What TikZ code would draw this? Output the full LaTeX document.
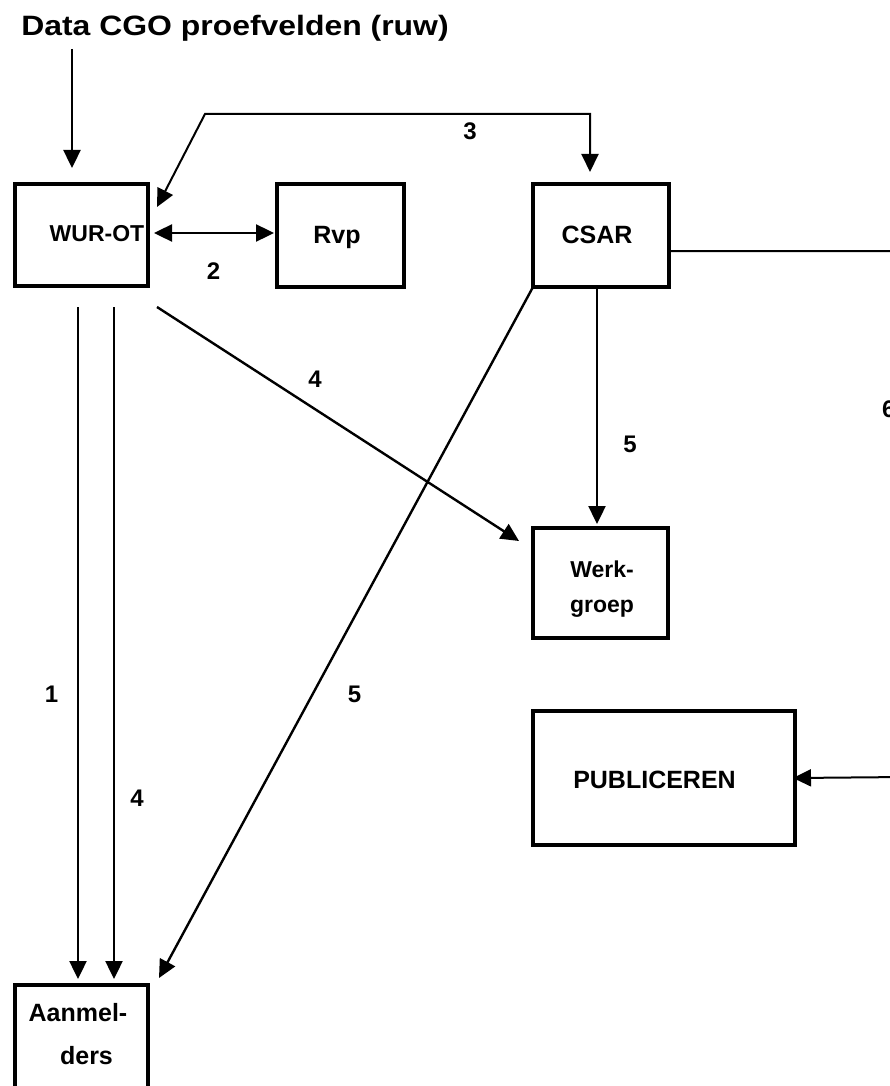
\documentclass[tikz,border=0pt]{standalone}
\usepackage{fontspec}
\setmainfont{Liberation Sans}
\usetikzlibrary{arrows.meta,calc}
\begin{document}
\begin{tikzpicture}[x=1pt,y=-1pt,
  box/.style={draw, line width=4.6pt, inner sep=0pt, outer sep=0pt},
  txt/.style={anchor=base, inner sep=0pt, font=\bfseries\fontsize{24}{28}\selectfont},
  tip/.tip={Triangle[length=18pt,width=17pt]},
  conn/.style={line width=2.4pt, -tip},
  dconn/.style={line width=2.4pt, tip-tip},
  thin/.style={line width=2pt}
]
\useasboundingbox (0,0) rectangle (890,1086);

% title
\node[txt, font=\bfseries\fontsize{28}{32}\selectfont] (title) at (235,36) {\scalebox{1.14}[1]{Data CGO proefvelden (ruw)}};

% boxes
\node[box, minimum width=133pt, minimum height=102pt] (wur) at (81.5,235) {};
\node[box, minimum width=127pt, minimum height=103pt] (rvp) at (340.5,235.5) {};
\node[box, minimum width=136pt, minimum height=103pt] (csar) at (601,235.5) {};
\node[box, minimum width=135pt, minimum height=110pt] (werk) at (600.5,583) {};
\node[box, minimum width=262pt, minimum height=134pt] (pub) at (664,778) {};
\node[box, minimum width=133pt, minimum height=130pt] (aan) at (81.5,1050) {};

% box texts
\node[txt, font=\bfseries\fontsize{23}{27}\selectfont] (wurt) at (97,241) {WUR-OT};
\node[txt, font=\bfseries\fontsize{25}{29}\selectfont] (rvpt) at (337,243) {Rvp};
\node[txt, font=\bfseries\fontsize{25}{29}\selectfont] (csart) at (597,243) {CSAR};
\node[txt, font=\bfseries\fontsize{23}{27}\selectfont] (werkt1) at (602,577) {Werk-};
\node[txt, font=\bfseries\fontsize{23}{27}\selectfont] (werkt2) at (602,612) {groep};
\node[txt, font=\bfseries\fontsize{25}{29}\selectfont] (pubt) at (654.5,788) {PUBLICEREN};
\node[txt, font=\bfseries\fontsize{25}{29}\selectfont] (aant1) at (78,1021) {Aanmel-};
\node[txt, font=\bfseries\fontsize{25}{29}\selectfont] (aant2) at (86.5,1064) {ders};

% connector labels
\node[txt] (l3) at (470,140) {3};
\node[txt] (l2) at (213.5,279) {2};
\node[txt] (l4a) at (315,387) {4};
\node[txt] (l5a) at (630,452) {5};
\node[txt] (l1) at (51.5,702) {1};
\node[txt] (l5b) at (354.5,702) {5};
\node[txt] (l4b) at (137,806) {4};
\node[txt, anchor=base west] (l6) at (882,417) {6};

% helper coordinates
\coordinate (tin) at (72,49);
\coordinate (ay) at (0,233);
\coordinate (k3) at (205,114);
\coordinate (c3) at (590,114);
\coordinate (x5) at (597,0);
\coordinate (x1) at (78,0);
\coordinate (x4) at (114,0);
\coordinate (y6) at (0,251);
\coordinate (r6a) at (905,251);
\coordinate (r6b) at (905,777);

% connectors
\draw[conn, shorten >=16pt] (tin) -- (tin |- wur.north);
\draw[dconn, shorten <=6pt, shorten >=3pt] (wur.east |- ay) -- (rvp.west |- ay);
\draw[thin, tip-tip, shorten >=12pt] ($(wur.north east)+(9,23)$) -- (k3) -- (c3) -- (c3 |- csar.north);
\draw[conn] ($(wur.south east)+(9,21)$) -- ($(werk.north west)+(-14,13)$);
\draw[conn, shorten >=4pt] (csar.south -| x5) -- (werk.north -| x5);
\draw[conn] (csar.south west) -- ($(aan.north east)+(11,-7)$);
\draw[conn, shorten <=21pt, shorten >=6pt] (wur.south -| x1) -- (aan.north -| x1);
\draw[conn, shorten <=21pt, shorten >=6pt] (wur.south -| x4) -- (aan.north -| x4);
\draw[thin, -tip, shorten >=-2pt] (csar.east |- y6) -- (r6a) -- (r6b) -- (pub.east);
\end{tikzpicture}
\end{document}
